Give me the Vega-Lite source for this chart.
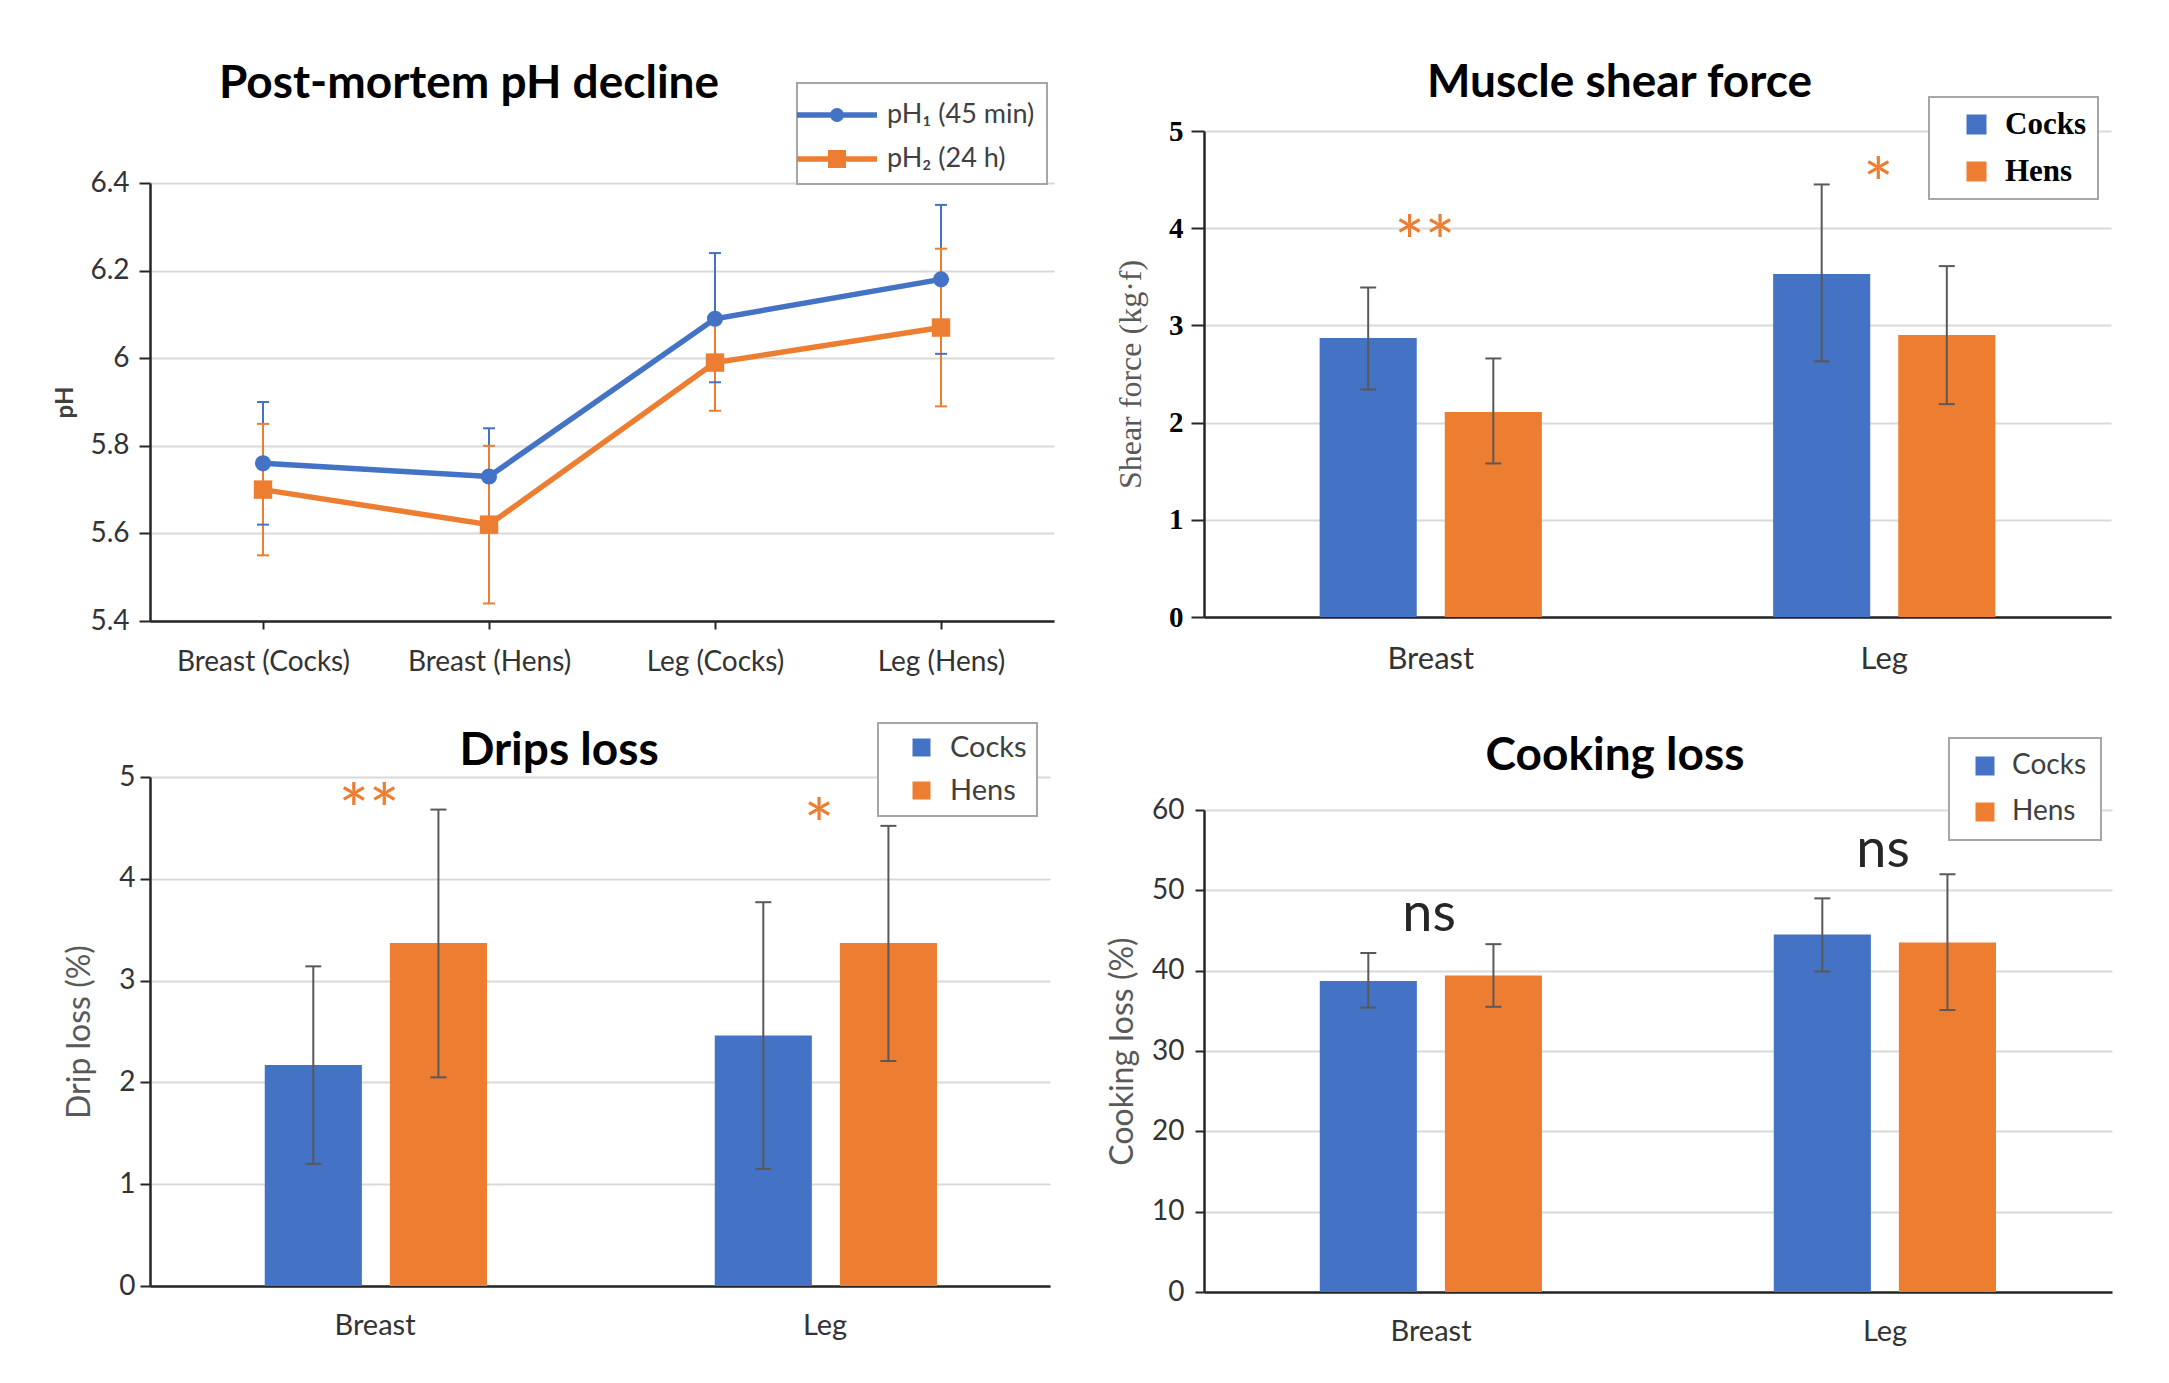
{
  "$schema": "https://vega.github.io/schema/vega-lite/v6.json",
  "background": "white",
  "padding": {"left": 53, "top": 60, "right": 5, "bottom": 5},
  "config": {
    "font": "Lato",
    "view": {"stroke": null},
    "axis": {"labelFont": "Lato", "labelColor": "#333333", "titleFont": "Lato", "titleColor": "#595959", "titleFontWeight": "normal", "domainColor": "#262626", "domainWidth": 2.5, "tickColor": "#262626", "tickWidth": 2, "gridColor": "#d9d9d9", "gridWidth": 2},
    "title": {"font": "Lato", "fontSize": 46, "fontWeight": "bold", "color": "#000000"},
    "legend": {"strokeColor": "#a6a6a6", "fillColor": "#ffffff", "strokeWidth": 2, "labelFont": "Lato", "labelColor": "#404040", "symbolOpacity": 1,
      "symbolBaseFillColor": {"expr": "datum.value === 'pH₁ (45 min)' ? '#4472C4' : '#ED7D31'"}}
  },
  "resolve": {"scale": {"color": "independent"}, "legend": {"color": "independent"}},
  "vconcat": [
    {
      "resolve": {"scale": {"color": "independent"}, "legend": {"color": "independent"}},
      "hconcat": [
        {
          "width": 904,
          "height": 490,
          "title": {"text": "Post-mortem pH decline", "offset": 23, "dx": -133},
          "data": {"values": [
            {"group": "Breast (Cocks)", "series": "pH₁ (45 min)", "mean": 5.76, "lo": 5.62, "hi": 5.90},
            {"group": "Breast (Hens)", "series": "pH₁ (45 min)", "mean": 5.73, "lo": 5.62, "hi": 5.84},
            {"group": "Leg (Cocks)", "series": "pH₁ (45 min)", "mean": 6.09, "lo": 5.945, "hi": 6.24},
            {"group": "Leg (Hens)", "series": "pH₁ (45 min)", "mean": 6.18, "lo": 6.01, "hi": 6.35},
            {"group": "Breast (Cocks)", "series": "pH₂ (24 h)", "mean": 5.70, "lo": 5.55, "hi": 5.85},
            {"group": "Breast (Hens)", "series": "pH₂ (24 h)", "mean": 5.62, "lo": 5.44, "hi": 5.80},
            {"group": "Leg (Cocks)", "series": "pH₂ (24 h)", "mean": 5.99, "lo": 5.88, "hi": 6.10},
            {"group": "Leg (Hens)", "series": "pH₂ (24 h)", "mean": 6.07, "lo": 5.89, "hi": 6.25}
          ]},
          "encoding": {
            "x": {"field": "group", "type": "nominal", "sort": ["Breast (Cocks)", "Breast (Hens)", "Leg (Cocks)", "Leg (Hens)"], "scale": {"type": "point", "padding": 0.5},
              "axis": {"title": null, "labelAngle": 0, "labelFontSize": 28, "tickSize": 8, "labelPadding": 19, "grid": false}}
          },
          "layer": [
            {
              "mark": {"type": "rule", "strokeWidth": 2},
              "encoding": {
                "y": {"field": "lo", "type": "quantitative", "scale": {"domain": [5.4, 6.4], "range": [490, 52], "nice": false, "zero": false},
                  "axis": {"title": "pH", "titleFontWeight": "bold", "titleColor": "#404040", "titleFontSize": 24, "titlePadding": 12, "values": [5.4, 5.6, 5.8, 6, 6.2, 6.4], "format": "~g", "labelFontSize": 28, "tickSize": 11, "labelPadding": 10, "grid": true}},
                "y2": {"field": "hi"},
                "color": {"field": "series", "type": "nominal", "scale": {"domain": ["pH₁ (45 min)", "pH₂ (24 h)"], "range": ["#4472C4", "#ED7D31"]}, "legend": null}
              }
            },
            {
              "mark": {"type": "tick", "thickness": 2, "size": 12, "opacity": 1},
              "encoding": {"y": {"field": "lo", "type": "quantitative"}, "color": {"field": "series", "type": "nominal", "legend": null}}
            },
            {
              "mark": {"type": "tick", "thickness": 2, "size": 12, "opacity": 1},
              "encoding": {"y": {"field": "hi", "type": "quantitative"}, "color": {"field": "series", "type": "nominal", "legend": null}}
            },
            {
              "mark": {"type": "line", "strokeWidth": 5.5},
              "encoding": {"y": {"field": "mean", "type": "quantitative"}, "color": {"field": "series", "type": "nominal", "legend": null}}
            },
            {
              "transform": [{"filter": "datum.series === 'pH₁ (45 min)'"}],
              "mark": {"type": "point", "shape": "circle", "filled": true, "size": 260, "opacity": 1},
              "encoding": {"y": {"field": "mean", "type": "quantitative"}, "color": {"field": "series", "type": "nominal", "legend": null}}
            },
            {
              "transform": [{"filter": "datum.series === 'pH₂ (24 h)'"}],
              "mark": {"type": "point", "shape": "square", "filled": true, "size": 340, "opacity": 1},
              "encoding": {"y": {"field": "mean", "type": "quantitative"}, "color": {"field": "series", "type": "nominal", "legend": null}}
            },
            {
              "mark": {"type": "point", "filled": true, "size": 0, "strokeWidth": 0},
              "encoding": {
                "y": {"field": "mean", "type": "quantitative"},
                "color": {"field": "series", "type": "nominal", "legend": null},
                "shape": {"field": "series", "type": "nominal",
                  "scale": {"domain": ["pH₁ (45 min)", "pH₂ (24 h)"], "range": ["M-1.6,-0.14H0.078A0.35,0.35 0 0 1 0.722,-0.14H2.4V0.14H0.722A0.35,0.35 0 0 1 0.078,0.14H-1.6Z", "M-1.6,-0.14H-0.05V-0.45H0.85V-0.14H2.4V0.14H0.85V0.45H-0.05V0.14H-1.6Z"]},
                  "legend": {"title": null, "orient": "none", "legendX": 647, "legendY": -48, "padding": 12, "symbolSize": 1600, "labelFontSize": 27, "rowPadding": 11, "labelOffset": 38, "symbolStrokeWidth": 0}}
              }
            }
          ]
        },
        {
          "width": 907,
          "height": 486,
          "title": {"text": "Muscle shear force", "offset": -11, "dx": -38},
          "data": {"values": [
            {"part": "Breast", "sex": "Cocks", "mean": 2.87, "lo": 2.34, "hi": 3.39},
            {"part": "Breast", "sex": "Hens", "mean": 2.11, "lo": 1.58, "hi": 2.66},
            {"part": "Leg", "sex": "Cocks", "mean": 3.53, "lo": 2.63, "hi": 4.45},
            {"part": "Leg", "sex": "Hens", "mean": 2.90, "lo": 2.19, "hi": 3.61}
          ]},
          "encoding": {
            "x": {"field": "part", "type": "nominal", "sort": ["Breast", "Leg"], "scale": {"paddingInner": 0.51, "paddingOuter": 0.255},
              "axis": {"title": null, "labelAngle": 0, "labelFontSize": 31, "ticks": false, "tickSize": 0, "labelPadding": 27, "grid": false}}
          },
          "layer": [
            {
              "mark": {"type": "bar"},
              "encoding": {
                "xOffset": {"field": "sex", "type": "nominal", "scale": {"paddingInner": 0.224, "paddingOuter": 0}},
                "y": {"field": "mean", "type": "quantitative", "scale": {"domain": [0, 5], "nice": false},
                  "axis": {"title": "Shear force (kg·f)", "titleFont": "Liberation Serif", "titleFontSize": 32, "titlePadding": 21, "labelFont": "Liberation Serif", "labelFontWeight": "bold", "labelFontSize": 29, "labelColor": "#000000", "values": [0, 1, 2, 3, 4, 5], "format": "d", "tickSize": 13, "labelPadding": 8, "grid": true}},
                "color": {"field": "sex", "type": "nominal", "scale": {"domain": ["Cocks", "Hens"], "range": ["#4472C4", "#ED7D31"]},
                  "legend": {"title": null, "orient": "none", "legendX": 725, "legendY": -34, "padding": 12, "symbolOffset": 20, "symbolType": "square", "symbolSize": 400, "symbolStrokeWidth": 0, "labelFont": "Liberation Serif", "labelFontWeight": "bold", "labelFontSize": 31, "labelColor": "#000000", "labelOffset": 13, "rowPadding": 15}}
              }
            },
            {
              "mark": {"type": "rule", "color": "#595959", "strokeWidth": 2},
              "encoding": {"xOffset": {"field": "sex", "type": "nominal"}, "y": {"field": "lo", "type": "quantitative"}, "y2": {"field": "hi"}}
            },
            {
              "mark": {"type": "tick", "color": "#595959", "thickness": 2, "size": 16, "opacity": 1},
              "encoding": {"xOffset": {"field": "sex", "type": "nominal"}, "y": {"field": "lo", "type": "quantitative"}}
            },
            {
              "mark": {"type": "tick", "color": "#595959", "thickness": 2, "size": 16, "opacity": 1},
              "encoding": {"xOffset": {"field": "sex", "type": "nominal"}, "y": {"field": "hi", "type": "quantitative"}}
            },
            {
              "data": {"values": [
                {"part": "Breast", "label": "**", "mean": 3.82},
                {"part": "Leg", "label": "*", "mean": 4.41}
              ]},
              "mark": {"type": "text", "font": "Lato", "fontSize": 72, "color": "#ED7D31", "baseline": "middle", "dx": -6},
              "encoding": {
                "y": {"field": "mean", "type": "quantitative"},
                "text": {"field": "label"}
              }
            }
          ]
        }
      ],
      "spacing": 60
    },
    {
      "resolve": {"scale": {"color": "independent"}, "legend": {"color": "independent"}},
      "hconcat": [
        {
          "width": 900,
          "height": 509,
          "title": {"text": "Drips loss", "offset": -53, "dx": -41},
          "data": {"values": [
            {"part": "Breast", "sex": "Cocks", "mean": 2.17, "lo": 1.20, "hi": 3.14},
            {"part": "Breast", "sex": "Hens", "mean": 3.37, "lo": 2.05, "hi": 4.68},
            {"part": "Leg", "sex": "Cocks", "mean": 2.46, "lo": 1.15, "hi": 3.77},
            {"part": "Leg", "sex": "Hens", "mean": 3.37, "lo": 2.21, "hi": 4.52}
          ]},
          "encoding": {
            "x": {"field": "part", "type": "nominal", "sort": ["Breast", "Leg"], "scale": {"paddingInner": 0.51, "paddingOuter": 0.255},
              "axis": {"title": null, "labelAngle": 0, "labelFontSize": 29, "ticks": false, "tickSize": 0, "labelPadding": 25, "grid": false}}
          },
          "layer": [
            {
              "mark": {"type": "bar"},
              "encoding": {
                "xOffset": {"field": "sex", "type": "nominal", "scale": {"paddingInner": 0.224, "paddingOuter": 0}},
                "y": {"field": "mean", "type": "quantitative", "scale": {"domain": [0, 5], "nice": false},
                  "axis": {"title": "Drip loss (%)", "titleFontSize": 32, "titlePadding": 22, "labelFontSize": 28, "values": [0, 1, 2, 3, 4, 5], "format": "d", "tickSize": 10, "labelPadding": 5, "grid": true}},
                "color": {"field": "sex", "type": "nominal", "scale": {"domain": ["Cocks", "Hens"], "range": ["#4472C4", "#ED7D31"]},
                  "legend": {"title": null, "orient": "none", "legendX": 728, "legendY": -54, "padding": 10, "symbolOffset": 19, "symbolType": "square", "symbolSize": 324, "symbolStrokeWidth": 0, "labelFontSize": 29, "labelOffset": 14, "rowPadding": 13}}
              }
            },
            {
              "mark": {"type": "rule", "color": "#595959", "strokeWidth": 2},
              "encoding": {"xOffset": {"field": "sex", "type": "nominal"}, "y": {"field": "lo", "type": "quantitative"}, "y2": {"field": "hi"}}
            },
            {
              "mark": {"type": "tick", "color": "#595959", "thickness": 2, "size": 16, "opacity": 1},
              "encoding": {"xOffset": {"field": "sex", "type": "nominal"}, "y": {"field": "lo", "type": "quantitative"}}
            },
            {
              "mark": {"type": "tick", "color": "#595959", "thickness": 2, "size": 16, "opacity": 1},
              "encoding": {"xOffset": {"field": "sex", "type": "nominal"}, "y": {"field": "hi", "type": "quantitative"}}
            },
            {
              "data": {"values": [
                {"part": "Breast", "label": "**", "mean": 4.64},
                {"part": "Leg", "label": "*", "mean": 4.49}
              ]},
              "mark": {"type": "text", "font": "Lato", "fontSize": 72, "color": "#ED7D31", "baseline": "middle", "dx": -6},
              "encoding": {
                "y": {"field": "mean", "type": "quantitative"},
                "text": {"field": "label"}
              }
            }
          ]
        },
        {
          "width": 908,
          "height": 515,
          "title": {"text": "Cooking loss", "offset": -43, "dx": -43},
          "data": {"values": [
            {"part": "Breast", "sex": "Cocks", "mean": 38.7, "lo": 35.4, "hi": 42.2},
            {"part": "Breast", "sex": "Hens", "mean": 39.4, "lo": 35.5, "hi": 43.3},
            {"part": "Leg", "sex": "Cocks", "mean": 44.5, "lo": 39.9, "hi": 49.0},
            {"part": "Leg", "sex": "Hens", "mean": 43.5, "lo": 35.1, "hi": 52.0}
          ]},
          "encoding": {
            "x": {"field": "part", "type": "nominal", "sort": ["Breast", "Leg"], "scale": {"paddingInner": 0.51, "paddingOuter": 0.255},
              "axis": {"title": null, "labelAngle": 0, "labelFontSize": 29, "ticks": false, "tickSize": 0, "labelPadding": 25, "grid": false}}
          },
          "layer": [
            {
              "mark": {"type": "bar"},
              "encoding": {
                "xOffset": {"field": "sex", "type": "nominal", "scale": {"paddingInner": 0.224, "paddingOuter": 0}},
                "y": {"field": "mean", "type": "quantitative", "scale": {"domain": [0, 60], "range": [515, 33], "nice": false},
                  "axis": {"title": "Cooking loss (%)", "titleFontSize": 32, "titlePadding": 12, "labelFontSize": 28, "values": [0, 10, 20, 30, 40, 50, 60], "format": "d", "tickSize": 9, "labelPadding": 11, "grid": true}},
                "color": {"field": "sex", "type": "nominal", "scale": {"domain": ["Cocks", "Hens"], "range": ["#4472C4", "#ED7D31"]},
                  "legend": {"title": null, "orient": "none", "legendX": 745, "legendY": -39, "padding": 14, "symbolOffset": 8, "symbolType": "square", "symbolSize": 361, "symbolStrokeWidth": 0, "labelFontSize": 28, "labelOffset": 13, "rowPadding": 18}}
              }
            },
            {
              "mark": {"type": "rule", "color": "#595959", "strokeWidth": 2},
              "encoding": {"xOffset": {"field": "sex", "type": "nominal"}, "y": {"field": "lo", "type": "quantitative"}, "y2": {"field": "hi"}}
            },
            {
              "mark": {"type": "tick", "color": "#595959", "thickness": 2, "size": 16, "opacity": 1},
              "encoding": {"xOffset": {"field": "sex", "type": "nominal"}, "y": {"field": "lo", "type": "quantitative"}}
            },
            {
              "mark": {"type": "tick", "color": "#595959", "thickness": 2, "size": 16, "opacity": 1},
              "encoding": {"xOffset": {"field": "sex", "type": "nominal"}, "y": {"field": "hi", "type": "quantitative"}}
            },
            {
              "data": {"values": [
                {"part": "Breast", "label": "ns", "mean": 46.9},
                {"part": "Leg", "label": "ns", "mean": 54.9}
              ]},
              "mark": {"type": "text", "font": "Lato", "fontSize": 54, "color": "#262626", "baseline": "middle", "dx": -2},
              "encoding": {
                "y": {"field": "mean", "type": "quantitative"},
                "text": {"field": "label"}
              }
            }
          ]
        }
      ],
      "spacing": 56
    }
  ],
  "spacing": 46
}
